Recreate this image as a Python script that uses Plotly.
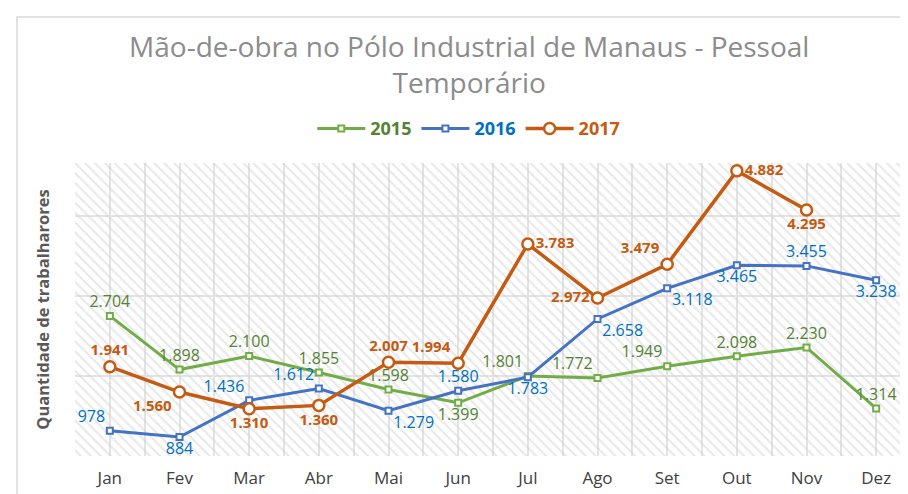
import plotly.graph_objects as go

months = ["Jan", "Fev", "Mar", "Abr", "Mai", "Jun", "Jul", "Ago", "Set", "Out", "Nov", "Dez"]
v2015 = [2704, 1898, 2100, 1855, 1598, 1399, 1801, 1772, 1949, 2098, 2230, 1314]
v2016 = [978, 884, 1436, 1612, 1279, 1580, 1783, 2658, 3118, 3465, 3455, 3238]
v2017 = [1941, 1560, 1310, 1360, 2007, 1994, 3783, 2972, 3479, 4882, 4295]

pos2015 = ["top center", "top center", "top center", "top center", "top center", "bottom center",
           "top left", "top left", "top left", "top center", "top center", "top center"]
pos2016 = ["top left", "bottom center", "top left", "top left", "bottom right", "top center",
           "bottom center", "bottom right", "bottom right", "bottom center", "top center", "bottom center"]
pos2017 = ["top center", "bottom left", "bottom center", "bottom center", "top center", "top left",
           "middle right", "middle left", "top left", "middle right", "bottom center"]

Y_MIN, Y_MAX = 600, 5000
x_idx = list(range(len(months)))

fig = go.Figure()

# hatched plot-area background
fig.add_trace(go.Scatter(
    x=[-0.5, 11.5, 11.5, -0.5, -0.5], y=[Y_MIN, Y_MIN, Y_MAX, Y_MAX, Y_MIN],
    mode="none", fill="toself", fillcolor="rgba(0,0,0,0)",
    fillpattern=dict(shape="\\", fgcolor="#d2d2d2", bgcolor="rgba(0,0,0,0)", size=7, solidity=0.3),
    hoverinfo="skip", showlegend=False))

font_lab = "Open Sans"
fig.add_trace(go.Scatter(
    x=x_idx, y=v2015, name="<b><span style='color:#548235'>2015</span></b>",
    mode="lines+markers+text", line=dict(color="#70ad47", width=3),
    marker=dict(symbol="square", size=6, color="white", line=dict(color="#70ad47", width=2)),
    texttemplate="%{y:,}", textposition=pos2015,
    textfont=dict(family=font_lab, size=16, color="#548235")))
fig.add_trace(go.Scatter(
    x=x_idx, y=v2016, name="<b><span style='color:#0070c0'>2016</span></b>",
    mode="lines+markers+text", line=dict(color="#4472c4", width=3),
    marker=dict(symbol="square", size=6, color="white", line=dict(color="#4472c4", width=2)),
    texttemplate="%{y:,}", textposition=pos2016,
    textfont=dict(family=font_lab, size=16, color="#0070c0")))
fig.add_trace(go.Scatter(
    x=x_idx[:len(v2017)], y=v2017, name="<b><span style='color:#c55a11'>2017</span></b>",
    mode="lines+markers+text", line=dict(color="#c55a11", width=3.5),
    marker=dict(symbol="circle", size=11, color="white", line=dict(color="#c55a11", width=2.5)),
    texttemplate="<b>%{y:,}</b>", textposition=pos2017,
    textfont=dict(family=font_lab, size=15, color="#c55a11")))

fig.update_layout(
    width=908, height=494,
    separators=",.",
    paper_bgcolor="white", plot_bgcolor="white",
    margin=dict(l=67, r=5, t=155, b=46),
    font=dict(family="Open Sans", color="#595959"),
    title=dict(text="Mão-de-obra no Pólo Industrial de Manaus - Pessoal<br>Temporário",
               x=0.508, xanchor="center", y=1 - 49 / 494, yanchor="top",
               font=dict(family="Open Sans", size=28, color="#8c8c8c")),
    legend=dict(orientation="h", x=0.471, xanchor="center", y=1.117, yanchor="middle",
                font=dict(size=18), bgcolor="rgba(0,0,0,0)", itemwidth=48),
    xaxis=dict(range=[-0.5, 11.5], tickvals=x_idx, ticktext=months,
               showgrid=True, gridcolor="#e3e3e3", gridwidth=2,
               minor=dict(dtick=0.5, tick0=-0.5, showgrid=True, gridcolor="#e3e3e3", gridwidth=2),
               zeroline=False, showline=False, ticks="", ticklabelstandoff=10,
               tickfont=dict(family="Open Sans", size=17, color="#404040")),
    yaxis=dict(range=[Y_MIN, Y_MAX], tickvals=[600, 1800, 3000, 4200], showticklabels=False,
               showgrid=True, gridcolor="#e3e3e3", gridwidth=2, zeroline=False, showline=False,
               title=dict(text="<b>Quantidade de trabalharores</b>", standoff=20,
                          font=dict(family="Open Sans", size=16.5, color="#595959"))),
    shapes=[dict(type="rect", xref="paper", yref="paper",
                 x0=(9 - 67) / 836, x1=(930 - 67) / 836, y0=(448 - 520) / 293, y1=(448 - 9) / 293,
                 line=dict(color="#d9d9d9", width=1.5), fillcolor="rgba(0,0,0,0)", layer="below")],
)

fig.write_html("out.html")
